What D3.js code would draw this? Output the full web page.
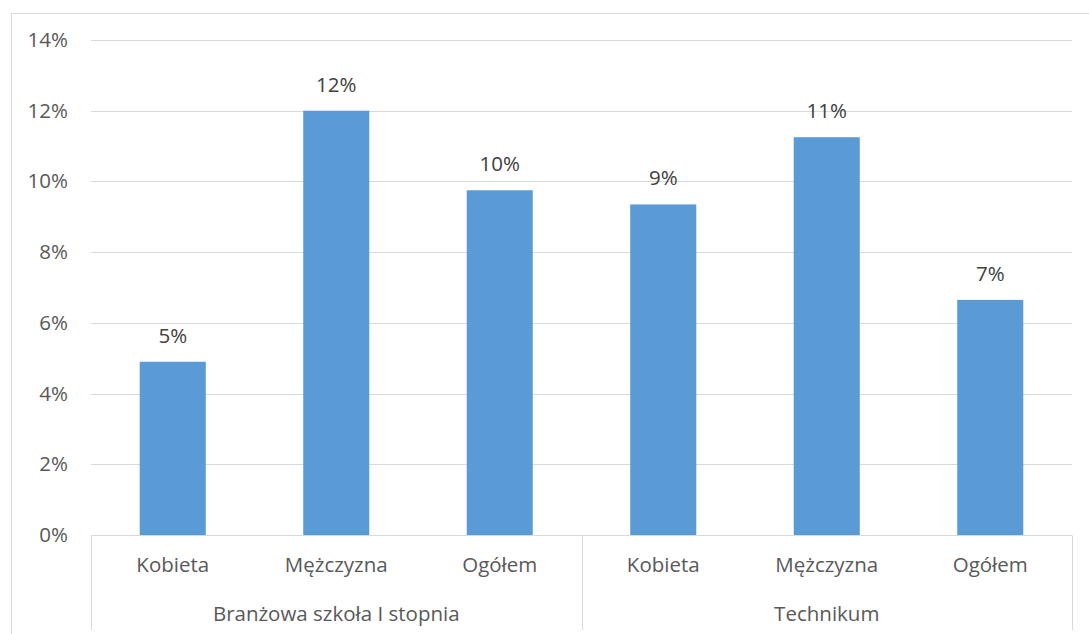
<!DOCTYPE html>
<html>
<head>
<meta charset="utf-8">
<script src="https://cdn.jsdelivr.net/npm/d3@7"></script>
<style>
  body { margin: 0; background: #fff; }
  text { font-family: 'Open Sans', sans-serif; }
</style>
</head>
<body>
<script>
const groups = ['Branżowa szkoła I stopnia', 'Technikum']
const categories = ['Kobieta', 'Mężczyzna', 'Ogółem']
const values = [
  [4.9, 12.0, 9.75],
  [9.35, 11.25, 6.65]
]
const labels = [
  ['5%', '12%', '10%'],
  ['9%', '11%', '7%']
]
const yTicks = [0, 2, 4, 6, 8, 10, 12, 14]

const width = 1089
const height = 634
const margin = { left: 91, right: 17, top: 40, bottom: 99 }
const fontSize = 20.5

// flatten to one row per bar
const rows = []
groups.forEach((g, gi) => {
  categories.forEach((c, ci) => {
    rows.push({ key: `${gi}-${ci}`, group: g, category: c, value: values[gi][ci], label: labels[gi][ci] })
  })
})

const svg = d3.select('body').append('svg')
  .attr('width', width)
  .attr('height', height)

// chart border
svg.append('rect')
  .attr('x', 11.5)
  .attr('y', 13.5)
  .attr('width', width)
  .attr('height', height)
  .attr('fill', 'none')
  .attr('stroke', '#d9d9d9')

const x = d3.scaleBand()
  .domain(rows.map(d => d.key))
  .range([margin.left, width - margin.right])
  .paddingInner(0.596)
  .paddingOuter(0.298)

const y = d3.scaleLinear()
  .domain([0, 14])
  .range([height - margin.bottom, margin.top])

// gridlines
svg.append('g')
  .attr('class', 'grid')
  .selectAll('line')
  .data(yTicks.slice(1))
  .enter()
  .append('line')
  .attr('x1', margin.left)
  .attr('x2', width - margin.right)
  .attr('y1', d => Math.round(y(d)) + 0.5)
  .attr('y2', d => Math.round(y(d)) + 0.5)
  .attr('stroke', '#d9d9d9')

// y axis labels
const yAxis = svg.append('g')
  .attr('transform', `translate(${margin.left - 23},0)`)
  .call(d3.axisLeft(y).tickValues(yTicks).tickFormat(d => d + '%').tickSize(0).tickPadding(0))
yAxis.select('.domain').remove()
yAxis.selectAll('text')
  .attr('fill', '#595959')
  .attr('font-size', fontSize)
  .attr('font-family', "'Open Sans', sans-serif")

// bars
svg.append('g')
  .selectAll('rect')
  .data(rows)
  .enter()
  .append('rect')
  .attr('x', d => x(d.key))
  .attr('width', x.bandwidth())
  .attr('y', d => y(d.value))
  .attr('height', d => y(0) - y(d.value))
  .attr('fill', '#5b9bd5')

// data labels
svg.append('g')
  .selectAll('text')
  .data(rows)
  .enter()
  .append('text')
  .attr('x', d => x(d.key) + x.bandwidth() / 2)
  .attr('y', d => y(d.value) - 19)
  .attr('text-anchor', 'middle')
  .attr('font-size', fontSize)
  .attr('fill', '#404040')
  .text(d => d.label)

// multi-level category axis
const axisY = Math.round(y(0)) + 0.5
const axis = svg.append('g').attr('class', 'cat-axis')
axis.append('line')
  .attr('x1', margin.left)
  .attr('x2', width - margin.right)
  .attr('y1', axisY)
  .attr('y2', axisY)
  .attr('stroke', '#d9d9d9')

const step = x.step()
const groupEdges = [0, 1, 2].map(i => margin.left + i * step * categories.length)
axis.selectAll('line.sep')
  .data(groupEdges)
  .enter()
  .append('line')
  .attr('class', 'sep')
  .attr('x1', d => Math.round(d) + 0.5)
  .attr('x2', d => Math.round(d) + 0.5)
  .attr('y1', axisY)
  .attr('y2', 630)
  .attr('stroke', '#d9d9d9')

axis.selectAll('text.cat')
  .data(rows)
  .enter()
  .append('text')
  .attr('class', 'cat')
  .attr('x', d => x(d.key) + x.bandwidth() / 2)
  .attr('y', 572)
  .attr('text-anchor', 'middle')
  .attr('font-size', fontSize)
  .attr('fill', '#595959')
  .text(d => d.category)

axis.selectAll('text.grp')
  .data(groups)
  .enter()
  .append('text')
  .attr('class', 'grp')
  .attr('x', (d, i) => (groupEdges[i] + groupEdges[i + 1]) / 2)
  .attr('y', 621)
  .attr('text-anchor', 'middle')
  .attr('font-size', fontSize)
  .attr('fill', '#595959')
  .text(d => d)
</script>
</body>
</html>
